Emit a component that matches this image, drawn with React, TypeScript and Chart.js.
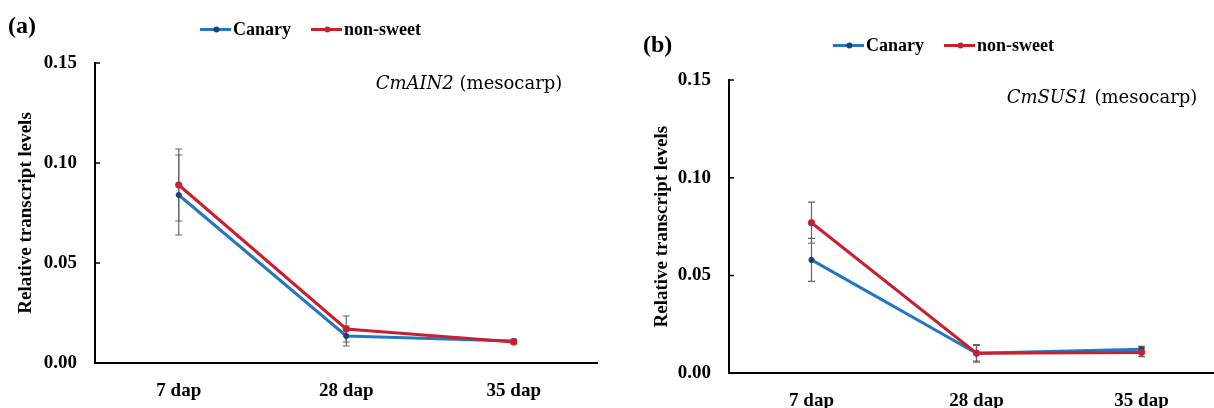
import React, { useEffect, useRef } from "react";
import { Chart, registerables } from "chart.js";

Chart.register(...registerables);

// ---------- data ----------
const categories = ["7 dap", "28 dap", "35 dap"];
const seriesNames = ["Canary", "non-sweet"];
const yTickValues = [0, 0.05, 0.1, 0.15];

const ain2Canary = [0.084, 0.0135, 0.011];
const ain2CanaryErr = [0.02, 0.005, 0.001];
const ain2NonSweet = [0.089, 0.017, 0.0105];
const ain2NonSweetErr = [0.018, 0.0065, 0.001];

const sus1Canary = [0.058, 0.0102, 0.0123];
const sus1CanaryErr = [0.011, 0.0045, 0.0015];
const sus1NonSweet = [0.077, 0.0103, 0.0107];
const sus1NonSweetErr = [0.0105, 0.004, 0.0022];

// ---------- styles ----------
const BLUE = "#2677c3";
const BLUE_POINT = "#1d3f7e";
const RED = "#c8202f";
const ERR = "#666666";
const SERIF = '"Liberation Serif", serif';
const TITLE_SERIF = '"DejaVu Serif", serif';

type Panel = {
  label: string;
  gene: string;
  rest: string;
  canary: number[];
  canaryErr: number[];
  nonSweet: number[];
  nonSweetErr: number[];
  left: number;
  width: number;
  padTop: number;
  padRight: number;
  yWidth: number;
  xHeight: number;
  yTitlePad: number;
  xLabelPad: number;
  labelPos: [number, number];
  legendPos: [number, number];
  titlePos: [number, number];
};

const panels: Panel[] = [
  {
    label: "(a)",
    gene: "CmAIN2",
    rest: " (mesocarp)",
    canary: ain2Canary,
    canaryErr: ain2CanaryErr,
    nonSweet: ain2NonSweet,
    nonSweetErr: ain2NonSweetErr,
    left: 0,
    width: 607,
    padTop: 63,
    padRight: 9.5,
    yWidth: 95,
    xHeight: 45,
    yTitlePad: 14.6,
    xLabelPad: 17,
    labelPos: [8, 27],
    legendPos: [200, 29.5],
    titlePos: [469, 89],
  },
  {
    label: "(b)",
    gene: "CmSUS1",
    rest: " (mesocarp)",
    canary: sus1Canary,
    canaryErr: sus1CanaryErr,
    nonSweet: sus1NonSweet,
    nonSweetErr: sus1NonSweetErr,
    left: 607,
    width: 630,
    padTop: 80,
    padRight: 13,
    yWidth: 122,
    xHeight: 34.7,
    yTitlePad: 43.3,
    xLabelPad: 16,
    labelPos: [36, 46],
    legendPos: [226, 45.5],
    titlePos: [495, 103],
  },
];

const decorPlugin = {
  id: "decor",
  beforeDatasetsDraw(chart: any) {
    const ctx = chart.ctx;
    const yScale = chart.scales.y;
    ctx.save();
    ctx.strokeStyle = ERR;
    ctx.lineWidth = 1.2;
    chart.data.datasets.forEach((ds: any, i: number) => {
      const meta = chart.getDatasetMeta(i);
      const errs: number[] = ds.errors || [];
      meta.data.forEach((pt: any, j: number) => {
        const v = ds.data[j];
        const e = errs[j] || 0;
        const x = pt.x;
        const yTop = yScale.getPixelForValue(v + e);
        const yBot = yScale.getPixelForValue(v - e);
        ctx.beginPath();
        ctx.moveTo(x, yTop);
        ctx.lineTo(x, yBot);
        ctx.moveTo(x - 3.5, yTop);
        ctx.lineTo(x + 3.5, yTop);
        ctx.moveTo(x - 3.5, yBot);
        ctx.lineTo(x + 3.5, yBot);
        ctx.stroke();
      });
    });
    ctx.restore();
  },
  afterDraw(chart: any) {
    const ctx = chart.ctx;
    const p: Panel = chart.options.plugins.decor.panel;
    const area = chart.chartArea;
    const yScale = chart.scales.y;
    ctx.save();
    // inward ticks on y axis
    ctx.strokeStyle = "#000";
    ctx.lineWidth = 1.5;
    yScale.ticks.forEach((t: any) => {
      const y = yScale.getPixelForValue(t.value);
      ctx.beginPath();
      ctx.moveTo(area.left, y);
      ctx.lineTo(area.left + 5, y);
      ctx.stroke();
    });
    // panel label
    ctx.fillStyle = "#000";
    ctx.font = `bold 24px ${SERIF}`;
    ctx.textBaseline = "middle";
    ctx.textAlign = "left";
    ctx.fillText(p.label, p.labelPos[0], p.labelPos[1]);
    // legend
    ctx.font = `bold 18px ${SERIF}`;
    let lx = p.legendPos[0];
    const ly = p.legendPos[1];
    chart.data.datasets.forEach((ds: any) => {
      ctx.strokeStyle = ds.borderColor;
      ctx.lineWidth = 3;
      ctx.beginPath();
      ctx.moveTo(lx, ly);
      ctx.lineTo(lx + 31, ly);
      ctx.stroke();
      ctx.fillStyle = ds.pointBackgroundColor;
      ctx.beginPath();
      ctx.arc(lx + 16.5, ly, 3, 0, Math.PI * 2);
      ctx.fill();
      ctx.fillStyle = "#000";
      ctx.fillText(ds.label, lx + 33, ly + 1);
      lx += 33 + ctx.measureText(ds.label).width + 20;
    });
    // gene title
    ctx.textBaseline = "alphabetic";
    ctx.font = `italic 18px ${TITLE_SERIF}`;
    const w1 = ctx.measureText(p.gene).width;
    ctx.font = `18px ${TITLE_SERIF}`;
    const w2 = ctx.measureText(p.rest).width;
    const sx = p.titlePos[0] - (w1 + w2) / 2;
    ctx.font = `italic 18px ${TITLE_SERIF}`;
    ctx.fillText(p.gene, sx, p.titlePos[1]);
    ctx.font = `18px ${TITLE_SERIF}`;
    ctx.fillText(p.rest, sx + w1, p.titlePos[1]);
    ctx.restore();
  },
};

function PanelChart({ p }: { p: Panel }) {
  const ref = useRef<HTMLCanvasElement | null>(null);
  useEffect(() => {
    if (!ref.current) return;
    const tickFont = { family: SERIF, size: 19, weight: "bold" as const };
    const chart = new Chart(ref.current, {
      type: "line",
      data: {
        labels: categories,
        datasets: [
          {
            label: seriesNames[0],
            data: p.canary,
            errors: p.canaryErr,
            borderColor: BLUE,
            backgroundColor: BLUE,
            pointBackgroundColor: BLUE_POINT,
            pointBorderColor: BLUE_POINT,
            pointRadius: 2.6,
            pointBorderWidth: 1,
            borderWidth: 3,
            tension: 0,
            order: 1,
          } as any,
          {
            label: seriesNames[1],
            data: p.nonSweet,
            errors: p.nonSweetErr,
            borderColor: RED,
            backgroundColor: RED,
            pointBackgroundColor: RED,
            pointBorderColor: RED,
            pointRadius: 3.2,
            pointBorderWidth: 1,
            borderWidth: 3,
            tension: 0,
            order: 0,
          } as any,
        ],
      },
      options: {
        animation: false,
        responsive: false,
        maintainAspectRatio: false,
        layout: {
          padding: { top: p.padTop, right: p.padRight, left: 0, bottom: 0 },
        },
        plugins: {
          legend: { display: false },
          tooltip: { enabled: false },
          decor: { panel: p },
        } as any,
        scales: {
          x: {
            offset: true,
            grid: { display: true, drawOnChartArea: false, drawTicks: false, color: "transparent" },
            border: { display: true, color: "#000", width: 2 },
            ticks: { font: tickFont, color: "#000", padding: p.xLabelPad, maxRotation: 0 },
            afterFit: (s: any) => {
              s.height = p.xHeight;
            },
          },
          y: {
            min: 0,
            max: 0.15,
            afterBuildTicks: (s: any) => {
              s.ticks = yTickValues.map((v) => ({ value: v }));
            },
            grid: { display: true, drawOnChartArea: false, drawTicks: false, color: "transparent" },
            border: { display: true, color: "#000", width: 2 },
            ticks: {
              font: tickFont,
              color: "#000",
              padding: 18,
              callback: (v: any) => Number(v).toFixed(2),
            },
            title: {
              display: true,
              text: "Relative transcript levels",
              font: { family: SERIF, size: 19, weight: "bold" },
              color: "#000",
              padding: { top: p.yTitlePad, bottom: 0 },
            },
            afterFit: (s: any) => {
              s.width = p.yWidth;
            },
          },
        },
      },
      plugins: [decorPlugin],
    } as any);
    return () => chart.destroy();
  }, [p]);
  return (
    <div style={{ position: "absolute", left: p.left, top: 0, width: p.width, height: 408 }}>
      <canvas ref={ref} width={p.width} height={408} style={{ width: p.width, height: 408, display: "block" }} />
    </div>
  );
}

export default function App() {
  return (
    <div
      style={{
        position: "absolute",
        left: 0,
        top: 0,
        width: 1214,
        height: 408,
        overflow: "hidden",
        background: "#fff",
      }}
    >
      {panels.map((p) => (
        <PanelChart key={p.label} p={p} />
      ))}
    </div>
  );
}
